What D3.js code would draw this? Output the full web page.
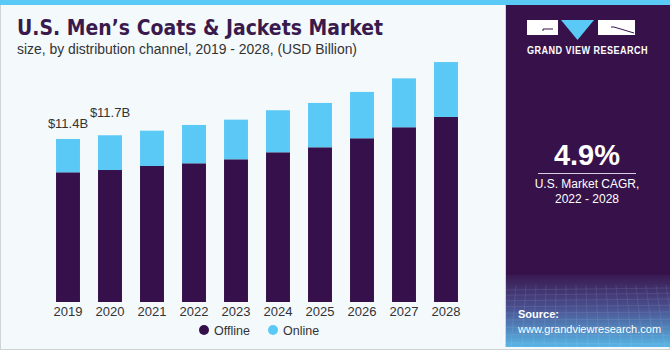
<!DOCTYPE html>
<html>
<head>
<meta charset="utf-8">
<script src="https://cdn.jsdelivr.net/npm/d3@7"></script>
<style>
  body { margin: 0; background: #fff; }
  svg { display: block; font-family: "Liberation Sans", Arial, sans-serif; }
</style>
</head>
<body>
<div class="main"></div>
<script>
//// Data
const years = ['2019', '2020', '2021', '2022', '2023', '2024', '2025', '2026', '2027', '2028'];
const offline = [9.07, 9.23, 9.51, 9.70, 9.98, 10.47, 10.82, 11.45, 12.22, 12.94];
const online = [2.33, 2.43, 2.47, 2.68, 2.77, 2.94, 3.10, 3.24, 3.42, 3.84];
const valueLabels = [{ year: '2019', text: '$11.4B', gap: 11 }, { year: '2020', text: '$11.7B', gap: 18 }];
const seriesNames = ['Offline', 'Online'];
const colors = ['#36104a', '#5bc9f5'];

const width = 670;
const height = 350;

const svg = d3.select('.main').append('svg')
  .attr('width', width)
  .attr('height', height);

// background + frame
svg.append('rect').attr('x', 0.5).attr('y', 0.5).attr('width', width - 1).attr('height', height - 1)
  .attr('fill', '#f4f9fc').attr('stroke', '#cfd3d6');
svg.append('rect').attr('x', 0).attr('y', 0).attr('width', width).attr('height', 5).attr('fill', '#5bc9f5');

// right panel
const defs = svg.append('defs');
const grad = defs.append('linearGradient').attr('id', 'srcGrad').attr('x1', 0).attr('y1', 0).attr('x2', 0).attr('y2', 1);
grad.append('stop').attr('offset', '0%').attr('stop-color', '#3a1a52');
grad.append('stop').attr('offset', '45%').attr('stop-color', '#4a4f8e');
grad.append('stop').attr('offset', '100%').attr('stop-color', '#58b6e6');

svg.append('rect').attr('x', 506).attr('y', 5).attr('width', 164).attr('height', 270).attr('fill', '#37124a');
svg.append('rect').attr('x', 506).attr('y', 275).attr('width', 164).attr('height', 72).attr('fill', 'url(#srcGrad)');
svg.append('line').attr('x1', 505.5).attr('x2', 505.5).attr('y1', 5).attr('y2', 347).attr('stroke', '#d0d4d8');

// grid texture in source box
const gridG = svg.append('g').attr('opacity', 0.18).attr('stroke', '#cfe6ff').attr('stroke-width', 0.6);
for (let i = 0; i < 12; i++) {
  gridG.append('line').attr('x1', 506).attr('x2', 670).attr('y1', 290 + i * 5 + i * i * 0.2).attr('y2', 288 + i * 5 + i * i * 0.25);
}
for (let i = 0; i < 18; i++) {
  gridG.append('line').attr('x1', 506 + i * 10).attr('x2', 500 + i * 11).attr('y1', 285).attr('y2', 347);
}

// logo
svg.append('rect').attr('x', 527).attr('y', 20).attr('width', 31).attr('height', 15).attr('fill', '#fff');
svg.append('path').attr('d', 'M543,31 V29 H553').attr('fill', 'none').attr('stroke', '#37124a').attr('stroke-width', 1);
svg.append('path').attr('d', 'M561,20 L594,20 L577.5,40 Z').attr('fill', '#5bc9f5');
svg.append('rect').attr('x', 598).attr('y', 20).attr('width', 37).attr('height', 15).attr('fill', '#fff');
svg.append('path').attr('d', 'M634,33 L614,27 H611').attr('fill', 'none').attr('stroke', '#37124a').attr('stroke-width', 1);
svg.append('text').attr('x', 587.5).attr('y', 54).attr('text-anchor', 'middle')
  .attr('fill', '#fff').attr('font-size', 10).attr('font-weight', 'bold').attr('letter-spacing', 0.5)
  .attr('textLength', 121).attr('lengthAdjust', 'spacingAndGlyphs')
  .text('GRAND VIEW RESEARCH');

// CAGR
svg.append('text').attr('x', 587).attr('y', 165).attr('text-anchor', 'middle')
  .attr('fill', '#fff').attr('font-size', 29).attr('font-weight', 'bold').text('4.9%');
svg.append('line').attr('x1', 538).attr('x2', 636).attr('y1', 173.5).attr('y2', 173.5).attr('stroke', '#d8cce0');
svg.append('text').attr('x', 587).attr('y', 188).attr('text-anchor', 'middle')
  .attr('fill', '#fff').attr('font-size', 12).text('U.S. Market CAGR,');
svg.append('text').attr('x', 587).attr('y', 203).attr('text-anchor', 'middle')
  .attr('fill', '#fff').attr('font-size', 12).text('2022 - 2028');

// source
svg.append('text').attr('x', 518).attr('y', 318).attr('fill', '#fff').attr('font-size', 11).attr('font-weight', 'bold').text('Source:');
svg.append('text').attr('x', 518).attr('y', 333).attr('fill', '#fff').attr('font-size', 11).text('www.grandviewresearch.com');

// titles
svg.append('text').attr('x', 17).attr('y', 35).attr('fill', '#3a1a4d')
  .attr('font-size', 21).attr('font-weight', 'bold').attr('font-family', '"DejaVu Sans", sans-serif')
  .attr('textLength', 366).attr('lengthAdjust', 'spacingAndGlyphs')
  .text('U.S. Men\u2019s Coats & Jackets Market');
svg.append('text').attr('x', 17).attr('y', 54).attr('fill', '#333')
  .attr('font-size', 14).attr('textLength', 340).attr('lengthAdjust', 'spacingAndGlyphs')
  .text('size, by distribution channel, 2019 - 2028, (USD Billion)');

// chart
const data = years.map((y, i) => ({ year: y, Offline: offline[i], Online: online[i] }));
const stack = d3.stack().keys(seriesNames)(data);

const xScale = d3.scaleBand()
  .domain(years)
  .range([47, 467])
  .paddingInner(0.43)
  .paddingOuter(0.215);

const yScale = d3.scaleLinear()
  .domain([0, 20])
  .range([302, 16]);

svg.append('g').selectAll('g')
  .data(stack)
  .enter()
  .append('g')
  .attr('fill', (d, i) => colors[i])
  .selectAll('rect')
  .data(d => d)
  .enter()
  .append('rect')
  .attr('x', d => xScale(d.data.year))
  .attr('y', d => yScale(d[1]))
  .attr('width', xScale.bandwidth())
  .attr('height', d => yScale(d[0]) - yScale(d[1]));

const xAxis = d3.axisBottom(xScale).tickSize(0).tickPadding(5);
const xg = svg.append('g')
  .attr('id', 'x-axis')
  .attr('transform', 'translate(0, 302)')
  .call(xAxis);
xg.select('.domain').remove();
xg.selectAll('text').attr('font-size', 13).attr('fill', '#333').attr('font-family', '"Liberation Sans", Arial, sans-serif');

// value labels
valueLabels.forEach(l => {
  const i = years.indexOf(l.year);
  svg.append('text')
    .attr('x', xScale(l.year) + xScale.bandwidth() / 2)
    .attr('y', yScale(offline[i] + online[i]) - l.gap)
    .attr('text-anchor', 'middle')
    .attr('fill', '#333')
    .attr('font-size', 13)
    .text(l.text);
});

// legend
const legend = svg.append('g').attr('transform', 'translate(204, 330)');
const items = [{ name: 'Offline', x: 0 }, { name: 'Online', x: 69 }];
items.forEach((it, i) => {
  legend.append('circle').attr('cx', it.x).attr('cy', 0).attr('r', 5).attr('fill', colors[i]);
  legend.append('text').attr('x', it.x + 10).attr('y', 4.5).attr('fill', '#333').attr('font-size', 12.5).text(it.name);
});
</script>
</body>
</html>
